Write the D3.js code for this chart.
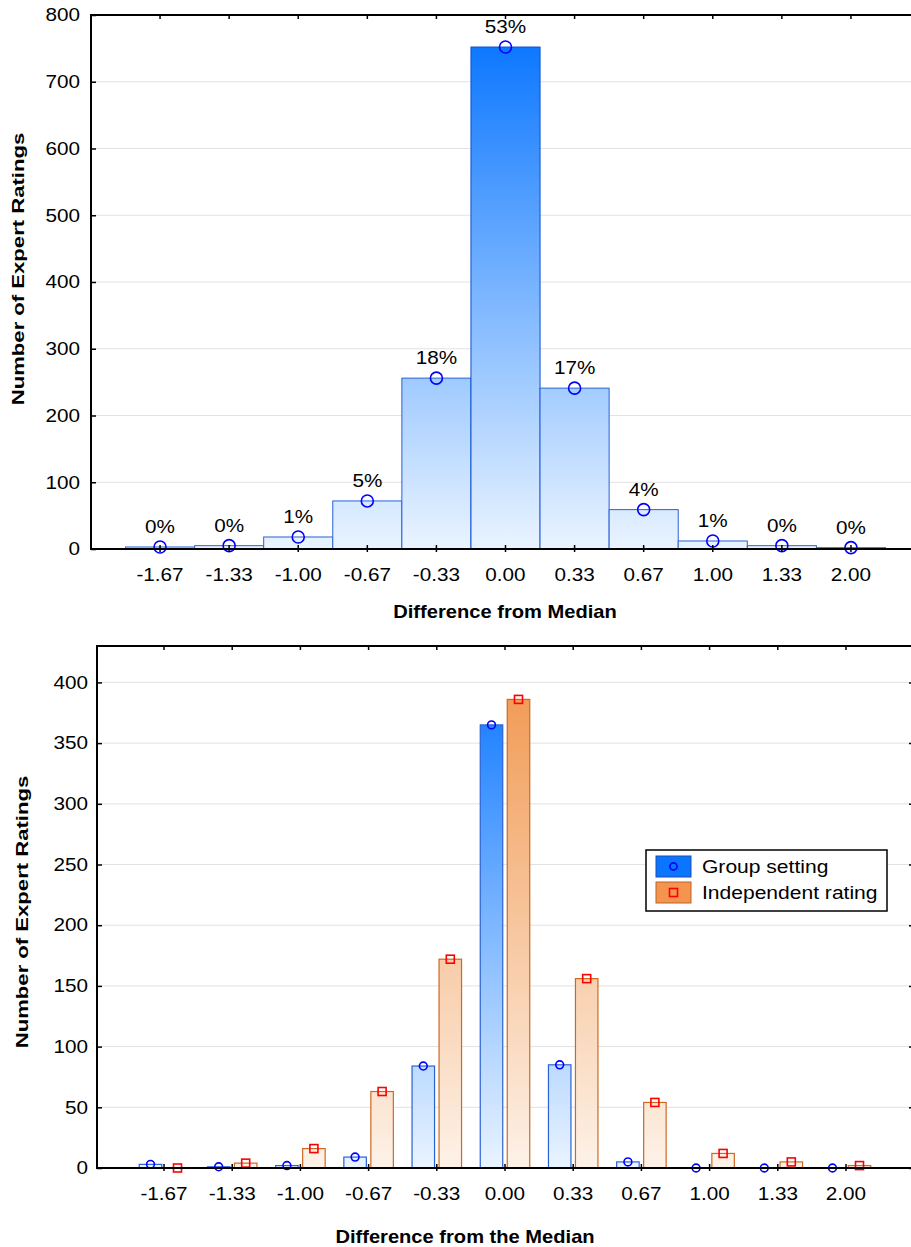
<!DOCTYPE html>
<html><head><meta charset="utf-8">
<script src="https://cdn.jsdelivr.net/npm/d3@7"></script>
<style>body{margin:0;background:#fff}svg{display:block}text{font-family:"Liberation Sans",Arial,sans-serif;fill:#000}</style>
</head><body><svg id="c" width="911" height="1247"></svg>
<script>
const categories = ["-1.67","-1.33","-1.00","-0.67","-0.33","0.00","0.33","0.67","1.00","1.33","2.00"];
const totalCounts = [3,5,18,72,256,752,241,59,12,5,2];
const pctLabels = ["0%","0%","1%","5%","18%","53%","17%","4%","1%","0%","0%"];
const groupCounts = [3,1,2,9,84,365,85,5,0,0,0];
const independentCounts = [0,4,16,63,172,386,156,54,12,5,2];
const seriesNames = ["Group setting","Independent rating"];
const topYTicks = [0,100,200,300,400,500,600,700,800];
const bottomYTicks = [0,50,100,150,200,250,300,350,400];

const SX = 1.15;
const svg = d3.select("#c");
const defs = svg.append("defs");
function grad(id, y1, y2, top, bottom){
  const g = defs.append("linearGradient").attr("id",id).attr("gradientUnits","userSpaceOnUse")
    .attr("x1",0).attr("x2",0).attr("y1",y1).attr("y2",y2);
  g.append("stop").attr("offset",0).attr("stop-color",top);
  g.append("stop").attr("offset",1).attr("stop-color",bottom);
}
function stretch(sel){
  sel.each(function(){
    const t = d3.select(this);
    const x = +t.attr("x")||0, y = +t.attr("y")||0;
    t.attr("x",0).attr("y",0).attr("transform",`translate(${x},${y}) scale(${SX},1)`);
  });
}
function addText(g, x, y, str, opts={}){
  const t = g.append("text").attr("transform",`translate(${x},${y})${opts.rotate?" rotate(-90)":""} scale(${opts.sx||SX},1)`)
    .attr("text-anchor",opts.anchor||"middle").style("font-size",(opts.size||18)+"px")
    .style("font-weight",opts.bold?"bold":"normal").text(str);
  return t;
}

function frame(g, L, R, T, B, y, yTicks){
  g.append("g").selectAll("line").data(yTicks.filter(v=>y(v)>T+1 && y(v)<B-1)).join("line")
    .attr("x1",L).attr("x2",R).attr("y1",d=>y(d)).attr("y2",d=>y(d))
    .attr("stroke","#e2e2e2").attr("stroke-width",1);
}
function axes(g, L, R, T, B, y, yTicks, x, padY, rightTicks){
  const ya = g.append("g").attr("transform",`translate(${L},0)`)
    .call(d3.axisLeft(y).tickValues(yTicks).tickSize(-5).tickPadding(padY));
  ya.select(".domain").remove();
  ya.selectAll("line").attr("stroke","#000").attr("stroke-width",1.5);
  ya.selectAll("text").style("font-size","18px").style("font-family","Liberation Sans, Arial, sans-serif");
  stretch(ya.selectAll("text"));
  const xb = g.append("g").attr("transform",`translate(0,${B})`)
    .call(d3.axisBottom(x).tickSize(-4).tickPadding(19));
  xb.select(".domain").remove();
  xb.selectAll("line").attr("stroke","#000").attr("stroke-width",1.5).attr("y2",-4).attr("y1",3);
  xb.selectAll("text").style("font-size","18px").style("font-family","Liberation Sans, Arial, sans-serif");
  stretch(xb.selectAll("text"));
  const xt = g.append("g").attr("transform",`translate(0,${T})`)
    .call(d3.axisTop(x).tickSize(-4).tickFormat(""));
  xt.select(".domain").remove();
  xt.selectAll("line").attr("stroke","#000").attr("stroke-width",1.5);
  if(rightTicks){
    const yr = g.append("g").attr("transform",`translate(${R},0)`)
      .call(d3.axisRight(y).tickValues(yTicks).tickSize(-3).tickFormat(""));
    yr.select(".domain").remove();
    yr.selectAll("line").attr("stroke","#000").attr("stroke-width",1.5);
  }
  g.append("path").attr("d",`M${R},${T}H${L}V${B}H${R}`).attr("fill","none")
    .attr("stroke","#000").attr("stroke-width",2);
}

// ---------- TOP CHART ----------
{
  const L=91, R=912, T=15, B=549;
  const g = svg.append("g");
  const y = d3.scaleLinear().domain([0,800]).range([B,T]);
  const x = d3.scaleBand().domain(categories).range([125.5,885.5]);
  grad("gTop", T, B, "#0070ff", "#eaf4ff");
  frame(g,L,R,T,B,y,topYTicks);
  g.append("g").selectAll("rect").data(categories).join("rect")
    .attr("x",d=>x(d)).attr("width",x.bandwidth())
    .attr("y",(d,i)=>y(totalCounts[i])).attr("height",(d,i)=>B-y(totalCounts[i]))
    .attr("fill","url(#gTop)").attr("stroke",(d,i)=>totalCounts[i]>500?"#0a4fd0":"#2a62d6").attr("stroke-width",1);
  g.append("g").selectAll("circle").data(categories).join("circle")
    .attr("cx",d=>x(d)+x.bandwidth()/2).attr("cy",(d,i)=>y(totalCounts[i]))
    .attr("r",6).attr("fill","none").attr("stroke","#0000ff").attr("stroke-width",1.6);
  const lg = g.append("g");
  categories.forEach((c,i)=>{
    addText(lg, x(c)+x.bandwidth()/2, y(totalCounts[i])-14, pctLabels[i], {size:18});
  });
  axes(g,L,R,T,B,y,topYTicks,x,11,false);
  addText(g, 505, 618, "Difference from Median", {size:17.5, bold:true});
  addText(g, 24, 269, "Number of Expert Ratings", {size:17, bold:true, rotate:true, sx:1.3});
}

// ---------- BOTTOM CHART ----------
{
  const L=97, R=912, T=646, B=1168;
  const g = svg.append("g");
  const y = d3.scaleLinear().domain([0,430]).range([B,T]);
  const x = d3.scaleBand().domain(categories).range([129.9,880.1]);
  const xs = d3.scaleBand().domain(seriesNames).range([-24.75,24.75]).paddingInner(0.1667);
  grad("gBlue", T, B, "#0070ff", "#eaf4ff");
  grad("gOrange", T, B, "#f09348", "#fdf2e8");
  frame(g,L,R,T,B,y,bottomYTicks);
  const series = [
    {name:seriesNames[0], vals:groupCounts, fill:"url(#gBlue)", stroke:"#2a62d6"},
    {name:seriesNames[1], vals:independentCounts, fill:"url(#gOrange)", stroke:"#cc6a24"}
  ];
  series.forEach(s=>{
    g.append("g").selectAll("rect").data(categories).join("rect")
      .attr("x",d=>x(d)+x.bandwidth()/2+xs(s.name)).attr("width",xs.bandwidth())
      .attr("y",(d,i)=>y(s.vals[i])).attr("height",(d,i)=>B-y(s.vals[i]))
      .attr("fill",s.fill).attr("stroke",s.stroke).attr("stroke-width",1.2);
  });
  const cx = (d,k)=>x(d)+x.bandwidth()/2+xs(seriesNames[k])+xs.bandwidth()/2;
  g.append("g").selectAll("circle").data(categories).join("circle")
    .attr("cx",d=>cx(d,0)).attr("cy",(d,i)=>y(groupCounts[i]))
    .attr("r",3.9).attr("fill","none").attr("stroke","#0000ff").attr("stroke-width",1.6);
  g.append("g").selectAll("rect").data(categories).join("rect")
    .attr("x",d=>cx(d,1)-4).attr("y",(d,i)=>y(independentCounts[i])-4)
    .attr("width",8).attr("height",8).attr("fill","none").attr("stroke","#ff0000").attr("stroke-width",1.6);
  axes(g,L,R,T,B,y,bottomYTicks,x,9,true);
  addText(g, 465, 1243, "Difference from the Median", {size:17.5, bold:true});
  addText(g, 28, 912, "Number of Expert Ratings", {size:17, bold:true, rotate:true, sx:1.3});

  // legend
  const lg = g.append("g");
  lg.append("rect").attr("x",646).attr("y",850).attr("width",241).attr("height",61)
    .attr("fill","#fff").attr("stroke","#000").attr("stroke-width",1.5);
  const items = [
    {name:seriesNames[0], fill:"#0a75ff", stroke:"#1f4fb0", mark:"circle"},
    {name:seriesNames[1], fill:"#f4944f", stroke:"#b8642c", mark:"square"}
  ];
  items.forEach((it,i)=>{
    const yy = 856 + i*26;
    lg.append("rect").attr("x",656).attr("y",yy).attr("width",35).attr("height",21)
      .attr("fill",it.fill).attr("stroke",it.stroke).attr("stroke-width",1);
    if(it.mark==="circle"){
      lg.append("circle").attr("cx",673.5).attr("cy",yy+10.5).attr("r",3.6)
        .attr("fill","none").attr("stroke","#0000ff").attr("stroke-width",1.6);
    } else {
      lg.append("rect").attr("x",669.5).attr("y",yy+6.5).attr("width",8).attr("height",8)
        .attr("fill","none").attr("stroke","#ff0000").attr("stroke-width",1.6);
    }
    addText(lg, 702, yy+17, it.name, {size:18.3, anchor:"start"});
  });
}
</script></body></html>
